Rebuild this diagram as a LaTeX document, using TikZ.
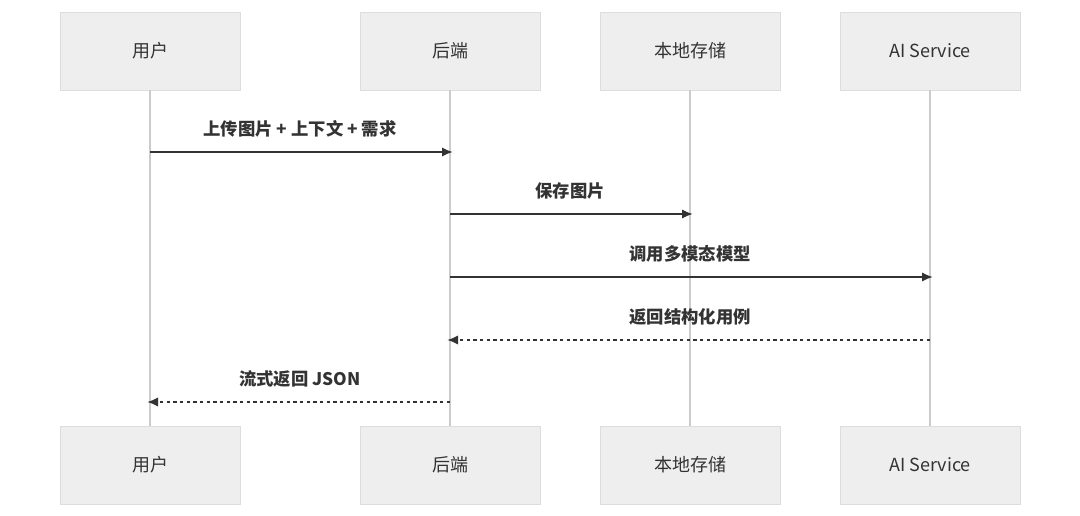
\documentclass[tikz,border=0pt]{standalone}
\usepackage{fontspec}
\setmainfont{Noto Sans CJK SC}
\usetikzlibrary{arrows.meta}
\definecolor{boxfill}{HTML}{EEEEEE}
\definecolor{boxline}{HTML}{DDDDDD}
\definecolor{lifeline}{HTML}{CCCCCC}
\definecolor{msg}{HTML}{333333}
\begin{document}
\begin{tikzpicture}[x=0.75pt,y=-0.75pt,
  actor/.style={draw=boxline,fill=boxfill,minimum width=135pt,minimum height=58.5pt,inner sep=0pt,font=\fontsize{13.5}{15}\selectfont,text=msg},
  life/.style={draw=lifeline,line width=1.5pt},
  call/.style={draw=msg,line width=1pt,-{Latex[length=8pt,width=7pt]},shorten >=-2pt},
  ret/.style={call,dash pattern=on 2.5pt off 2.5pt},
  lbl/.style={font=\bfseries\fontsize{13}{15}\selectfont,text=msg,anchor=south}]
\useasboundingbox (0,0) rectangle (1080,516);
\foreach \n/\x/\t in {u/150/用户,b/450/后端,s/690/本地存储,a/930/AI Service}{
  \node[actor] (\n t) at (\x,51) {\t};
  \node[actor] (\n b) at (\x,465) {\t};
  \draw[life] (\n t.south) -- (\n b.north);
}
\coordinate (u1) at (150,152); \coordinate (b1) at (450,152);
\coordinate (b2) at (450,214); \coordinate (s2) at (690,214);
\coordinate (b3) at (450,277); \coordinate (a3) at (930,277);
\coordinate (a4) at (930,340); \coordinate (b4) at (450,340);
\coordinate (b5) at (450,402); \coordinate (u5) at (150,402);
\draw[call] (u1) -- node[lbl,above=7pt]{上传图片 + 上下文 + 需求} (b1);
\draw[call] (b2) -- node[lbl,above=7pt]{保存图片} (s2);
\draw[call] (b3) -- node[lbl,above=7pt]{调用多模态模型} (a3);
\draw[ret] (a4) -- node[lbl,above=7pt]{返回结构化用例} (b4);
\draw[ret] (b5) -- node[lbl,above=7pt]{流式返回 JSON} (u5);
\end{tikzpicture}
\end{document}
